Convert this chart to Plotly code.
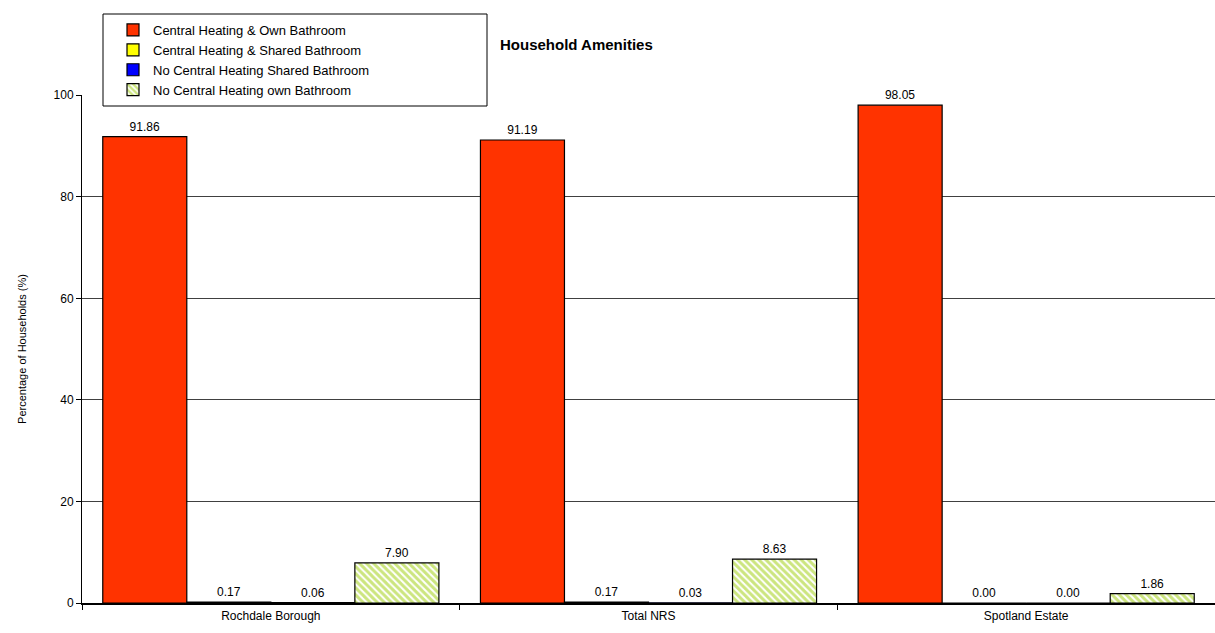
import plotly.graph_objects as go

categories = ["Rochdale Borough", "Total NRS", "Spotland Estate"]
series_names = [
    "Central Heating & Own Bathroom",
    "Central Heating & Shared Bathroom",
    "No Central Heating Shared Bathroom",
    "No Central Heating own Bathroom",
]
own_bath_ch = [91.86, 91.19, 98.05]
shared_bath_ch = [0.17, 0.17, 0.00]
shared_bath_no_ch = [0.06, 0.03, 0.00]
own_bath_no_ch = [7.90, 8.63, 1.86]

values = [own_bath_ch, shared_bath_ch, shared_bath_no_ch, own_bath_no_ch]
colors = ["#FF3300", "#FFFF00", "#0000FF", "#FFFFFF"]

font_family = "Liberation Sans, Arial, sans-serif"

# plot area in pixels: left 82, right 1215, top 95, bottom 603
W, H = 1215, 633
L, R, T, B = 82, 0, 95, 30
pw, ph = W - L - R, H - T - B

fig = go.Figure()
for i, (name, vals) in enumerate(zip(series_names, values)):
    marker = dict(color=colors[i], line=dict(color="black", width=1.2))
    if i == 3:
        marker["pattern"] = dict(shape="\\", fgcolor="#99CC00", size=5, solidity=0.6)
    fig.add_trace(
        go.Bar(
            x=categories,
            y=vals,
            name=name,
            marker=marker,
            texttemplate="%{y:.2f}",
            textposition="outside",
            textfont=dict(size=12, color="black", family=font_family),
            cliponaxis=False,
        )
    )

# legend frame (white box with black border)
fig.add_shape(
    type="rect",
    xref="paper", yref="paper",
    x0=(103 - L) / pw, x1=(487 - L) / pw,
    y0=(H - B - 106) / ph, y1=(H - B - 14) / ph,
    fillcolor="white",
    line=dict(color="black", width=1),
    layer="above",
)

fig.update_layout(
    width=W,
    height=H,
    margin=dict(l=L, r=R, t=T, b=B, autoexpand=False),
    plot_bgcolor="white",
    paper_bgcolor="white",
    font=dict(family=font_family, color="black", size=12),
    barmode="group",
    bargap=0.11,
    bargroupgap=0,
    title=dict(
        text="<b>Household Amenities</b>",
        x=500 / W,
        xanchor="left",
        y=1 - 45 / H,
        yanchor="middle",
        font=dict(size=15, family=font_family),
    ),
    legend=dict(
        x=(113 - L) / pw,
        y=(H - B - 15) / ph,
        xanchor="left",
        yanchor="top",
        bgcolor="rgba(0,0,0,0)",
        borderwidth=0,
        font=dict(size=13, family=font_family),
        itemwidth=30,
        tracegroupgap=0,
    ),
    showlegend=True,
)
fig.update_yaxes(
    range=[0, 100.05],
    tickvals=[0, 20, 40, 60, 80, 100],
    showgrid=True,
    gridcolor="#404040",
    gridwidth=1,
    showline=True,
    linecolor="black",
    linewidth=1,
    ticks="outside",
    ticklen=5,
    tickcolor="black",
    zeroline=False,
    tickfont=dict(size=12),
    title=dict(text="Percentage of Households (%)", font=dict(size=11), standoff=24),
)
fig.update_xaxes(
    showline=True,
    linecolor="black",
    linewidth=1.5,
    ticks="outside",
    tickson="boundaries",
    ticklen=5,
    tickcolor="black",
    tickfont=dict(size=12),
    ticklabelstandoff=1,
)

fig.write_html(
    "out.html",
    config={"displayModeBar": False},
    post_script="document.body.style.margin='0';",
)
